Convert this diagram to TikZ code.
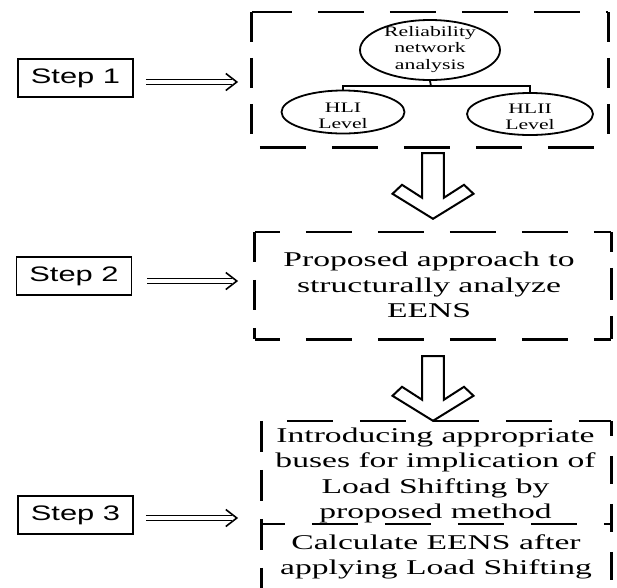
\documentclass[tikz,border=0pt]{standalone}
\usepackage{fontspec}
\usetikzlibrary{arrows.meta,shapes.geometric,calc}
\newfontfamily\serifw[FakeStretch=1.6]{Liberation Serif}
\newfontfamily\serife[FakeStretch=1.5]{Liberation Serif}
\newfontfamily\sansw[FakeStretch=1.47]{Liberation Sans}
\newcommand\hollowarrow[2]{%
  \draw[hollow] ($(#1)+(-10.8,0)$) -- ($(#2)+(-10.8,-21)$) -- ($(#2)+(-31,-34)$)
    -- ($(#2)+(-40.5,-25)$) -- (#2) -- ($(#2)+(40.5,-25)$) -- ($(#2)+(31,-34)$)
    -- ($(#2)+(10.8,-21)$) -- ($(#1)+(10.8,0)$) -- cycle;}
\newcommand\stepconn[2]{%
  \draw[dbl] (#1) -- ($(#2)+(-4.5,0)$);
  \draw[chev] ($(#2)+(-11,-8.5)$) -- (#2) -- ($(#2)+(-11,8.5)$);}
\begin{document}
\begin{tikzpicture}[x=1pt,y=-1pt,
  stepbox/.style={draw, line width=1.8pt, minimum width=115pt, minimum height=38pt,
    inner sep=0pt, font=\sansw\fontsize{21}{24}\selectfont},
  oval/.style={ellipse, draw, line width=1.8pt, inner sep=0pt},
  ovaltext/.style={align=center, inner sep=0pt, font=\serife\fontsize{14.5}{16.5}\selectfont},
  region/.style={inner sep=0pt},
  bodytext/.style={align=center, inner sep=0pt, font=\serifw\fontsize{21}{25.5}\selectfont},
  hd/.style={line width=2.6pt, dash pattern=on 46pt off 26pt},
  vd/.style={line width=3.2pt, dash pattern=on 30pt off 16pt},
  dbl/.style={double, double distance=4pt, line width=1.4pt},
  chev/.style={line width=1.6pt, line join=miter},
  hollow/.style={draw, line width=2pt, line join=miter},
  tree/.style={line width=1.8pt}
]
\useasboundingbox (0,0) rectangle (617,587);
\fill[white] (0,0) rectangle (617,587);
\clip (0,0) rectangle (617,587);

% regions (dashed boxes)
\node[region, minimum width=356pt, minimum height=135pt] (b1) at (430,79.5) {};
\node[region, minimum width=356pt, minimum height=107pt] (b2) at (433,285.5) {};
\node[region, minimum width=349pt, minimum height=179pt] (b3) at (436.5,510.5) {};

% box 1 edges
\draw[hd, dash phase=6pt] (b1.north west) -- (b1.north east);
\draw[hd, dash phase=64pt] (b1.south west) -- (b1.south east);
\draw[vd] (b1.north west) -- (b1.south west);
\draw[vd] (b1.north east) -- (b1.south east);

% box 2 edges
\draw[hd, dash phase=21pt] (b2.north west) -- (b2.north east);
\draw[hd, dash phase=21pt] (b2.south west) -- (b2.south east);
\draw[vd, dash pattern=on 30pt off 18pt] (b2.north west) -- (b2.south west);
\draw[vd, dash pattern=on 32pt off 16pt, dash phase=12pt] (b2.north east) -- (b2.south east);

% box 3 edges
\coordinate (dv) at (0,524);
\draw[hd, dash pattern=on 46pt off 27pt, dash phase=48pt] (b3.north west) -- (b3.north east);
\draw[hd, dash pattern=on 46pt off 27pt, dash phase=23pt] (b3.west |- dv) -- (b3.east |- dv);
\draw[vd, dash pattern=on 31pt off 18pt] (b3.north west) -- (b3.south west);
\draw[vd, dash pattern=on 28pt off 20pt, dash phase=13pt] (b3.north east) -- (b3.south east);
\draw[hd] (b3.south west) -- (b3.south east);

% ellipses of step 1
\node[oval, minimum width=140pt, minimum height=60pt] (rel) at (430,50) {};
\node[ovaltext] (relt) at (430,49.5) {Reliability\\network\\analysis};
\node[oval, minimum width=123pt, minimum height=43pt] (hl1) at (343,112) {};
\node[ovaltext] (hl1t) at (343,116) {HLI\\Level};
\node[oval, minimum width=126pt, minimum height=42pt] (hl2) at (530,114) {};
\node[ovaltext] (hl2t) at (530,117) {HLII\\Level};
\coordinate (bar) at (431,86);
\draw[tree] (rel.south) -- (bar);
\draw[tree] (hl1.north) |- (bar) -| (hl2.north);

% texts
\node[bodytext] (t2) at (429,285) {Proposed approach to\\structurally analyze\\EENS};
\node[bodytext] (t3a) at (435.5,475.5) {Introducing appropriate\\buses for implication of\\Load Shifting by\\proposed method};
\node[bodytext] (t3b) at (436,557) {Calculate EENS after\\applying Load Shifting};

% step boxes
\node[stepbox] (s1) at (75.5,78) {Step 1};
\node[stepbox] (s2) at (74,276) {Step 2};
\node[stepbox] (s3) at (75.5,515) {Step 3};

\coordinate (a1s) at ($(s1.east)+(12,4)$);
\coordinate (a1e) at ($(s1.east -| b1.west)+(-15,4)$);
\coordinate (a2s) at ($(s2.east)+(15,5)$);
\coordinate (a2e) at ($(s2.east -| b2.west)+(-18,5)$);
\coordinate (a3s) at ($(s3.east)+(12,3)$);
\coordinate (a3e) at ($(s3.east -| b3.west)+(-25,3)$);
\stepconn{a1s}{a1e}
\stepconn{a2s}{a2e}
\stepconn{a3s}{a3e}

% hollow down arrows
\coordinate (tip1) at ($(b2.north)+(0,-13)$);
\coordinate (top1) at ($(tip1 |- b1.south)+(0,6)$);
\coordinate (tip2) at (b3.north -| tip1);
\coordinate (top2) at ($(tip2 |- b2.south)+(0,17)$);
\hollowarrow{top1}{tip1}
\hollowarrow{top2}{tip2}
\end{tikzpicture}
\end{document}
